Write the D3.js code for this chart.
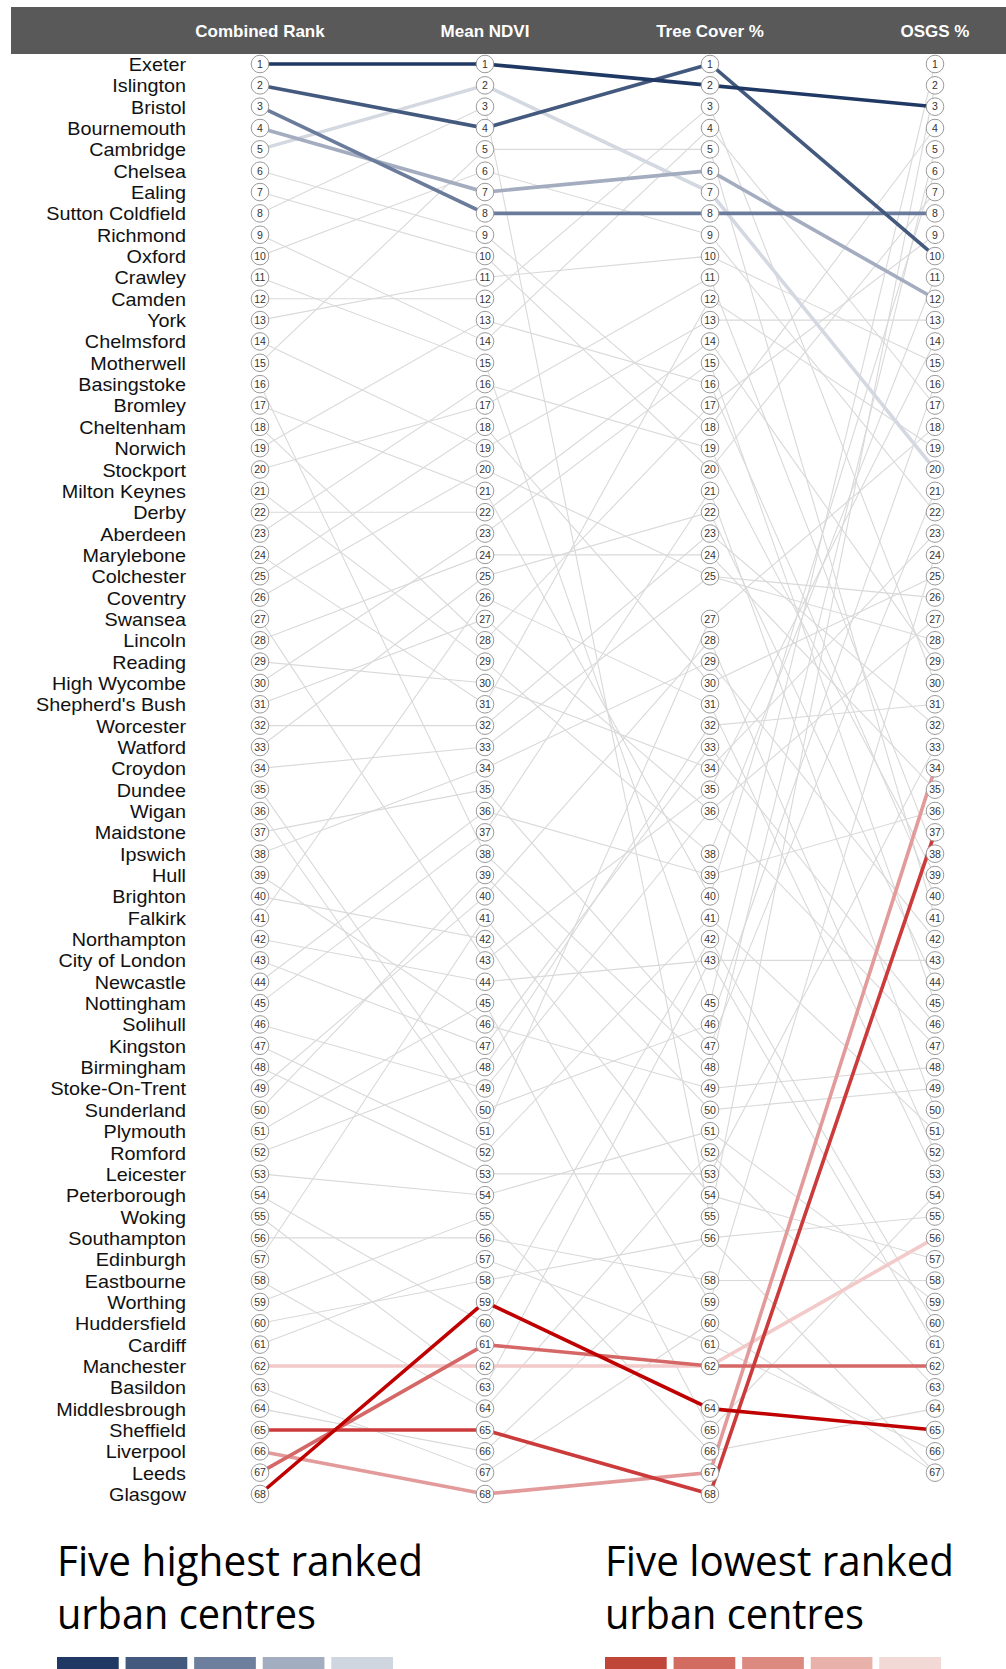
<!DOCTYPE html>
<html><head><meta charset="utf-8">
<script src="https://cdn.jsdelivr.net/npm/d3@7"></script>
<style>body{margin:0;background:#fff}svg{display:block}</style>
</head><body>
<script>
const cities = ["Exeter","Islington","Bristol","Bournemouth","Cambridge","Chelsea","Ealing","Sutton Coldfield","Richmond","Oxford","Crawley","Camden","York","Chelmsford","Motherwell","Basingstoke","Bromley","Cheltenham","Norwich","Stockport","Milton Keynes","Derby","Aberdeen","Marylebone","Colchester","Coventry","Swansea","Lincoln","Reading","High Wycombe","Shepherd's Bush","Worcester","Watford","Croydon","Dundee","Wigan","Maidstone","Ipswich","Hull","Brighton","Falkirk","Northampton","City of London","Newcastle","Nottingham","Solihull","Kingston","Birmingham","Stoke-On-Trent","Sunderland","Plymouth","Romford","Leicester","Peterborough","Woking","Southampton","Edinburgh","Eastbourne","Worthing","Huddersfield","Cardiff","Manchester","Basildon","Middlesbrough","Sheffield","Liverpool","Leeds","Glasgow"];
const combinedRank = d3.range(1, 69);
const ndviRank = [1,4,8,7,2,9,10,3,14,6,15,12,11,19,5,38,21,28,13,17,29,22,16,31,18,20,43,24,30,23,27,32,25,33,50,51,35,34,46,42,26,44,47,36,37,49,52,53,40,39,45,48,54,60,63,56,41,64,55,58,57,62,67,66,65,68,61,59];
const treeRank = [2,1,8,6,7,18,20,55,4,9,45,3,10,13,5,48,40,17,16,11,38,14,19,12,30,25,35,24,34,15,36,23,22,25,46,27,47,29,49,59,31,43,33,39,21,36,41,53,28,50,65,32,51,42,43,58,54,52,66,56,61,62,60,56,68,67,62,64];
const osgsRank = [3,10,8,12,20,4,7,2,17,22,1,30,15,13,41,5,6,9,40,38,11,29,39,19,25,28,14,35,23,45,27,32,44,26,16,18,21,42,48,24,53,43,46,36,50,47,51,33,52,49,54,31,59,60,61,58,57,63,64,55,66,56,67,67,37,34,62,65];
const columns = ["Combined Rank","Mean NDVI","Tree Cover %","OSGS %"];
const topFive = ["Exeter","Islington","Bristol","Bournemouth","Cambridge"];
const topColors = ["#1f3864","#44597e","#6b7b9b","#a3adbf","#d3d8e1"];
const bottomFive = ["Glasgow","Sheffield","Leeds","Liverpool","Manchester"];
const bottomColors = ["#c00000","#cc3b3b","#d56767","#e39a9a","#f3caca"];
const legendTopSwatches = ["#1f3864","#44597e","#6e7f9e","#a2adc0","#d0d6e0"];
const legendBottomSwatches = ["#c0463a","#d26b60","#dc8a80","#e8b2aa","#f2d9d5"];

const W = 1006, H = 1669;
const svg = d3.select("body").append("svg").attr("width", W).attr("height", H)
  .style("font-family","'Liberation Sans', Arial, sans-serif");

const x = d3.scalePoint().domain(columns).range([260, 935]);
const y = d3.scaleLinear().domain([1, 68]).range([64, 1494]);

// header
svg.append("rect").attr("x", 11).attr("y", 7).attr("width", W - 11).attr("height", 47).attr("fill", "#595959");
svg.selectAll("text.hdr").data(columns).join("text").attr("class","hdr")
  .attr("x", d => x(d)).attr("y", 37).attr("text-anchor","middle")
  .attr("fill","#fff").attr("font-weight","bold").attr("font-size", 17).text(d => d);

const rows = cities.map((c, i) => ({city: c, ranks: [combinedRank[i], ndviRank[i], treeRank[i], osgsRank[i]]}));
const line = d3.line().x((d, j) => x(columns[j])).y(d => y(d));

const hl = new Map();
topFive.forEach((c, i) => hl.set(c, {color: topColors[i], order: 10 - i}));
bottomFive.forEach((c, i) => hl.set(c, {color: bottomColors[i], order: 10 - i}));
svg.append("g").selectAll("path").data(rows.filter(r => !hl.has(r.city))).join("path")
  .attr("d", r => line(r.ranks)).attr("fill","none").attr("stroke","#d9d9d9").attr("stroke-width",1.1);
const hrows = rows.filter(r => hl.has(r.city)).sort((a, b) => hl.get(a.city).order - hl.get(b.city).order);
svg.append("g").selectAll("path").data(hrows).join("path")
  .attr("d", r => line(r.ranks)).attr("fill","none").attr("stroke", r => hl.get(r.city).color)
  .attr("stroke-width",3.6);

// circles
const rankArrays = [combinedRank, ndviRank, treeRank, osgsRank];
columns.forEach((col, j) => {
  const vals = Array.from(new Set(rankArrays[j])).sort((a, b) => a - b);
  const g = svg.append("g");
  g.selectAll("circle").data(vals).join("circle")
    .attr("cx", x(col)).attr("cy", d => y(d)).attr("r", 8.8)
    .attr("fill","#fff").attr("stroke","#9a9a9a").attr("stroke-width",1);
  g.selectAll("text").data(vals).join("text")
    .attr("x", x(col)).attr("y", d => y(d) + 3.8).attr("text-anchor","middle")
    .attr("font-size", 10.5).attr("fill","#333").text(d => d);
});

// city labels
svg.append("g").selectAll("text").data(rows).join("text")
  .attr("transform", r => `translate(186,${y(r.ranks[0]) + 7}) scale(1.1,1)`)
  .attr("text-anchor","end")
  .attr("font-size", 18).attr("fill","#111").text(r => r.city);

// legends
function legend(x0, lines, swatches) {
  lines.forEach((t, i) => {
    svg.append("text").attr("x", x0).attr("y", 1576 + i * 53)
      .attr("font-family","'Open Sans', 'Noto Sans', sans-serif").attr("font-size", 42)
      .attr("fill","#000").attr("textLength", i === 0 ? (x0 < 300 ? 366 : 349) : 259)
      .attr("lengthAdjust","spacingAndGlyphs").text(t);
  });
  const sx = d3.scaleBand().domain(d3.range(5)).range([x0, x0 + 336]).paddingInner(0.1);
  svg.append("g").selectAll("rect").data(swatches).join("rect")
    .attr("x", (d, i) => sx(i)).attr("y", 1657).attr("width", sx.bandwidth()).attr("height", 12)
    .attr("fill", d => d);
}
legend(57, ["Five highest ranked", "urban centres"], legendTopSwatches);
legend(605, ["Five lowest ranked", "urban centres"], legendBottomSwatches);
</script>
</body></html>
